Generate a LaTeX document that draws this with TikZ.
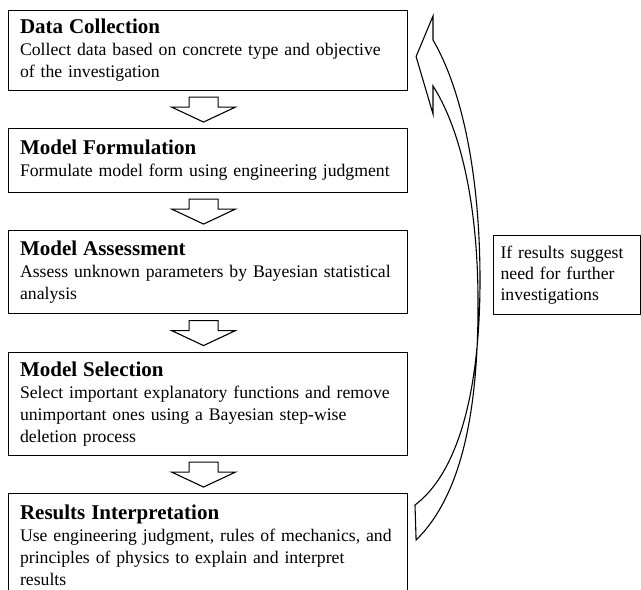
\documentclass[tikz,border=0pt]{standalone}
\usepackage{fontspec}
\setmainfont{Liberation Serif}
\usetikzlibrary{calc}

\hyphenpenalty=10000
\newcommand{\stagetitle}[1]{{\fontsize{21}{22}\selectfont\bfseries #1}}

\begin{document}
\begin{tikzpicture}[x=1pt, y=-1pt,
  stage/.style={draw=black, line width=1.1pt, anchor=north west, text width=376pt,
    inner xsep=11.5pt, inner ysep=0pt, align=left, font=\fontsize{17.7}{22}\selectfont},
  note/.style={draw=black, line width=1.1pt, anchor=north west, text width=133pt,
    inner xsep=7pt, inner ysep=0pt, align=left, font=\fontsize{17.7}{21}\selectfont},
  hollow/.style={draw=black, line width=1.1pt, fill=white, line join=miter}]

  \useasboundingbox (0,0) rectangle (641,590);
  \clip (0,0) rectangle (641,590);

  % Stages of the procedure
  \node[stage, minimum height=80pt] (b1) at (8,10) {\stagetitle{Data Collection}\\
    Collect data based on concrete type and objective\\ of the investigation};
  \node[stage, minimum height=64pt] (b2) at (8,128) {\stagetitle{Model Formulation}\\
    Formulate model form using engineering judgment};
  \node[stage, minimum height=83pt] (b3) at (8,230) {\stagetitle{Model Assessment}\\
    Assess unknown parameters by Bayesian statistical\\ analysis};
  \node[stage, minimum height=103pt] (b4) at (8,352) {\stagetitle{Model Selection}\\
    Select important explanatory functions and remove\\ unimportant ones using a Bayesian step-wise\\ deletion process};
  \node[stage, minimum height=104pt] (b5) at (8,493) {\stagetitle{Results Interpretation}\\
    Use engineering judgment, rules of mechanics, and\\ principles of physics to explain and interpret\\ results};

  % Hollow arrows between stages
  \foreach \a/\b in {b1/b2, b2/b3, b3/b4, b4/b5} {
    \coordinate (mid) at ($(\a.south)!0.5!(\b.north)+(-4.5,0)$);
    \draw[hollow] ($(mid)+(-14.5,-12.5)$) -- ++(29,0) -- ++(0,10) -- ++(17.5,0)
      -- ++(-32,15) -- ++(-32,-15) -- ++(17.5,0) -- cycle;
  }

  % Feedback loop
  \node[note, minimum height=79pt] (cond) at (493,235) {If results suggest\\ need for further\\ investigations};

  \coordinate (looptip) at ([xshift=8pt,yshift=-6pt]b1.east);
  \coordinate (loopfoot) at ([xshift=8pt,yshift=-47pt]b5.north east);
  \draw[hollow] (433,40) .. controls (465,95) and (480,185) .. (480,280)
    .. controls (480,400) and (455,475) .. (415,505) -- (loopfoot)
    .. controls (462,495) and (479,410) .. (478,295)
    .. controls (477,195) and (458,125) .. (433,86)
    -- (433,114) -- (looptip) -- (433,16) -- cycle;
\end{tikzpicture}
\end{document}
